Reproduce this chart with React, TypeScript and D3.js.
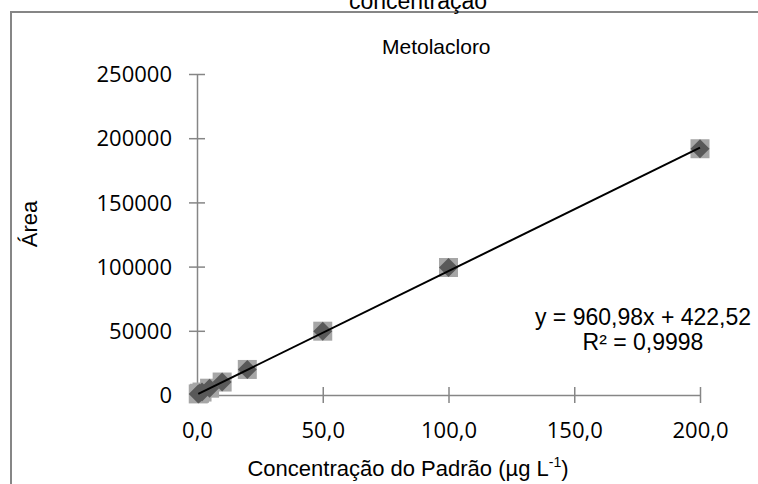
import React, { useEffect, useRef } from "react";
import * as d3 from "d3";

// calibration points (µg L-1 vs. peak area)
const concentrations = [0.5, 1, 2, 5, 10, 20, 50, 100, 200];
const areas = [850, 1350, 2300, 5300, 10100, 19900, 49700, 99300, 191800];
const xTicks = [0, 50, 100, 150, 200];
const yTicks = [0, 50000, 100000, 150000, 200000, 250000];
const slope = 960.98;
const intercept = 422.52;

const ptBr = d3.formatLocale({
  decimal: ",",
  thousands: ".",
  grouping: [3],
  currency: ["R$", ""]
});

const arial = "'Liberation Sans', Arial, sans-serif";
const tickFont = "'Open Sans', sans-serif";
const axisGrey = "#868686";

export default function App() {
  const xAxisRef = useRef<SVGGElement>(null);
  const yAxisRef = useRef<SVGGElement>(null);

  const x = d3.scaleLinear().domain([0, 200]).range([197, 700]);
  const y = d3.scaleLinear().domain([0, 250000]).range([395, 74]);

  useEffect(() => {
    const xAxis = d3
      .axisBottom(x)
      .tickValues(xTicks)
      .tickSize(8)
      .tickSizeOuter(0)
      .tickFormat(ptBr.format(".1f") as any);
    const yAxis = d3
      .axisLeft(y)
      .tickValues(yTicks)
      .tickSize(8)
      .tickSizeOuter(0)
      .tickFormat(d3.format("d") as any);

    const gx = d3.select(xAxisRef.current!).call(xAxis);
    gx.select(".domain").attr("stroke", axisGrey).attr("stroke-width", 1.5);
    gx.selectAll(".tick line").attr("stroke", axisGrey).attr("stroke-width", 1.5).attr("y1", -8);
    gx.selectAll(".tick text")
      .attr("y", 43)
      .attr("dy", 0)
      .attr("fill", "#000")
      .style("font-family", tickFont)
      .style("font-size", "22px");

    const gy = d3.select(yAxisRef.current!).call(yAxis);
    gy.select(".domain").attr("stroke", axisGrey).attr("stroke-width", 1.5);
    gy.selectAll(".tick line").attr("stroke", axisGrey).attr("stroke-width", 1.5).attr("x1", 8);
    gy.selectAll(".tick text")
      .attr("x", -25)
      .attr("dy", "0.35em")
      .attr("fill", "#000")
      .style("font-family", tickFont)
      .style("font-size", "22px");
  });

  const x0 = d3.min(concentrations)!;
  const x1 = d3.max(concentrations)!;

  return (
    <svg
      width={758}
      height={484}
      style={{ position: "absolute", left: 0, top: 0, background: "#fff" }}
    >
      <rect x={11} y={12} width={800} height={520} fill="#fff" stroke={axisGrey} strokeWidth={2} />
      <text x={418} y={9} textAnchor="middle" fontFamily={arial} fontSize={23}>
        concentração
      </text>
      <text x={382} y={54} fontFamily={arial} fontSize={21}>
        Metolacloro
      </text>

      <g ref={xAxisRef} transform="translate(0,395)"></g>
      <g ref={yAxisRef} transform="translate(197,0)"></g>

      {concentrations.map((c, i) => (
        <rect
          key={"s" + i}
          x={x(c) - 9.5}
          y={y(areas[i]) - 9.5}
          width={19}
          height={19}
          fill="#a6a6a6"
        />
      ))}
      {concentrations.map((c, i) => {
        const cx = x(c);
        const cy = y(areas[i]);
        return (
          <path
            key={"d" + i}
            d={`M${cx},${cy - 9.5}L${cx + 9.5},${cy}L${cx},${cy + 9.5}L${cx - 9.5},${cy}Z`}
            fill="#595959"
          />
        );
      })}

      <line
        x1={x(x0)}
        y1={y(slope * x0 + intercept)}
        x2={x(x1)}
        y2={y(slope * x1 + intercept)}
        stroke="#000"
        strokeWidth={2}
      />

      <text textAnchor="middle" fontFamily={arial} fontSize={23}>
        <tspan x={643} y={325}>y = 960,98x + 422,52</tspan>
        <tspan x={643} y={350}>R² = 0,9998</tspan>
      </text>

      <text
        transform="translate(37,224) rotate(-90)"
        textAnchor="middle"
        fontFamily={arial}
        fontSize={22}
      >
        Área
      </text>

      <text x={408} y={476} textAnchor="middle" fontFamily={arial} fontSize={22}>
        Concentração do Padrão (µg L<tspan dy={-9} fontSize={14}>-1</tspan>
        <tspan dy={9}>)</tspan>
      </text>
    </svg>
  );
}
